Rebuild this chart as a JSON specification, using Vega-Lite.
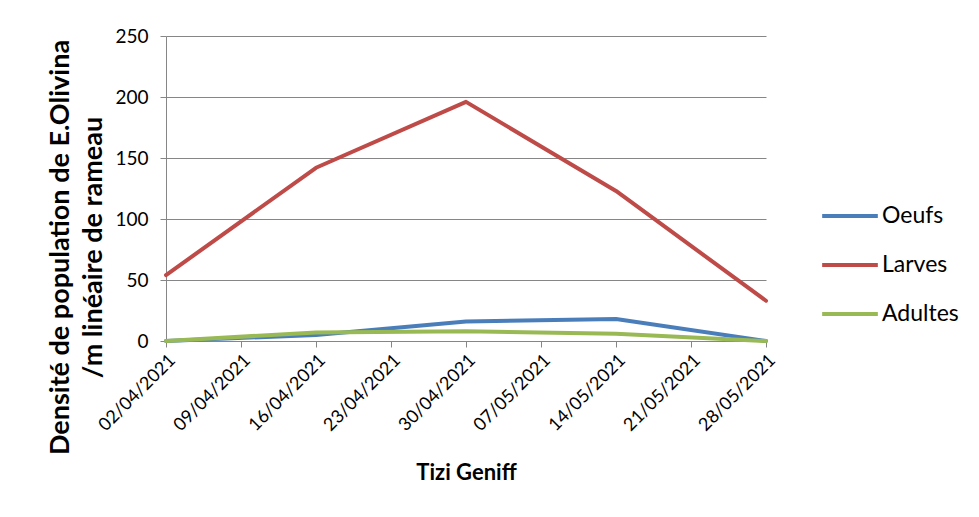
{
  "$schema": "https://vega.github.io/schema/vega-lite/v6.json",
  "width": 600,
  "height": 305,
  "autosize": "none",
  "padding": {"left": 166, "top": 36, "right": 213, "bottom": 176},
  "background": "white",
  "config": {
    "font": "Lato",
    "view": {"stroke": null},
    "axis": {"labelFont": "Lato", "titleFont": "Lato", "labelColor": "#000000", "titleColor": "#000000"}
  },
  "data": {
    "values": [
      {"date": "02/04/2021", "stade": "Oeufs", "valeur": 0},
      {"date": "16/04/2021", "stade": "Oeufs", "valeur": 5},
      {"date": "30/04/2021", "stade": "Oeufs", "valeur": 16},
      {"date": "14/05/2021", "stade": "Oeufs", "valeur": 18},
      {"date": "28/05/2021", "stade": "Oeufs", "valeur": 0},
      {"date": "02/04/2021", "stade": "Larves", "valeur": 54},
      {"date": "16/04/2021", "stade": "Larves", "valeur": 142},
      {"date": "30/04/2021", "stade": "Larves", "valeur": 196},
      {"date": "14/05/2021", "stade": "Larves", "valeur": 123},
      {"date": "28/05/2021", "stade": "Larves", "valeur": 33},
      {"date": "02/04/2021", "stade": "Adultes", "valeur": 0},
      {"date": "16/04/2021", "stade": "Adultes", "valeur": 7},
      {"date": "30/04/2021", "stade": "Adultes", "valeur": 8},
      {"date": "14/05/2021", "stade": "Adultes", "valeur": 6},
      {"date": "28/05/2021", "stade": "Adultes", "valeur": 0}
    ]
  },
  "mark": {"type": "line", "strokeWidth": 4, "strokeCap": "round", "strokeJoin": "round"},
  "encoding": {
    "x": {
      "field": "date",
      "type": "ordinal",
      "scale": {
        "type": "point",
        "padding": 0,
        "domain": ["02/04/2021", "09/04/2021", "16/04/2021", "23/04/2021", "30/04/2021", "07/05/2021", "14/05/2021", "21/05/2021", "28/05/2021"]
      },
      "axis": {
        "title": "Tizi Geniff",
        "titleFontSize": 22,
        "titleFontWeight": "bold",
        "titleBaseline": "middle",
        "titleY": 131,
        "labelAngle": -45,
        "labelFontSize": 18,
        "labelPadding": 4,
        "domainColor": "#868686",
        "tickColor": "#868686",
        "tickSize": 6,
        "grid": false
      }
    },
    "y": {
      "field": "valeur",
      "type": "quantitative",
      "scale": {"domain": [0, 250], "nice": false},
      "axis": {
        "title": ["Densité de population de E.Olivina", "/m linéaire de rameau"],
        "titleFontSize": 27,
        "titleFontWeight": "bold",
        "titleLineHeight": 33,
        "titleAlign": "center",
        "titleBaseline": "bottom",
        "titleX": -92,
        "titleY": 211,
        "values": [0, 50, 100, 150, 200, 250],
        "labelFontSize": 19,
        "labelPadding": 12,
        "domainColor": "#868686",
        "tickColor": "#868686",
        "tickSize": 6,
        "grid": true,
        "gridColor": "#868686",
        "gridWidth": 1
      }
    },
    "color": {
      "field": "stade",
      "type": "nominal",
      "scale": {"domain": ["Oeufs", "Larves", "Adultes"], "range": ["#4A7EBB", "#BE4B48", "#98B954"]},
      "legend": {
        "title": null,
        "orient": "none",
        "legendX": 654,
        "legendY": 150,
        "symbolType": "stroke",
        "symbolSize": 3100,
        "symbolStrokeWidth": 4,
        "labelFontSize": 23,
        "labelFont": "Lato",
        "labelColor": "#000000",
        "labelOffset": 2,
        "rowPadding": 7
      }
    }
  }
}
